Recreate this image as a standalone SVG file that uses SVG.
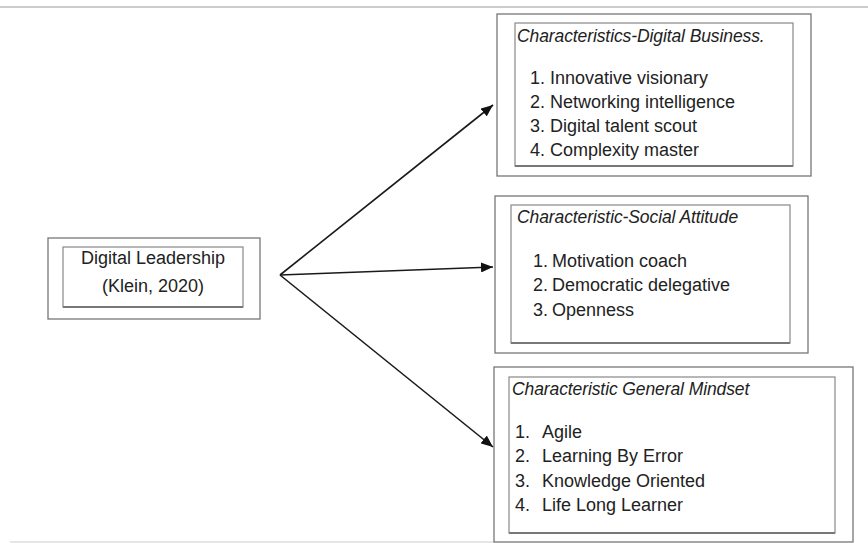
<svg xmlns="http://www.w3.org/2000/svg" width="868" height="543" viewBox="0 0 868 543">
<defs>
<marker id="ah" viewBox="0 0 12 10" refX="12" refY="5" markerWidth="12" markerHeight="10" markerUnits="userSpaceOnUse" orient="auto">
<path d="M0,0 L12,5 L0,10 z" fill="#111"/>
</marker>
<style>
.outer{fill:#fff;stroke:#777;stroke-width:1.3}
.inner{fill:#fff;stroke:#888;stroke-width:1.2}
.shadow{stroke:#777;stroke-width:2.2}
text{font-family:"Liberation Sans",Arial,sans-serif;fill:#222;font-size:18px}
.ttl{font-style:italic;font-size:17.5px;letter-spacing:-0.1px}
.conn{stroke:#1a1a1a;stroke-width:1.6;fill:none}
.rule{stroke:#999;stroke-width:1.2}
</style>
</defs>
<rect width="868" height="543" fill="#fff"/>
<line class="rule" x1="0" y1="7" x2="868" y2="7"/>
<line x1="10" y1="542" x2="494" y2="542" stroke="#ccc" stroke-width="1"/>

<g id="digital-leadership">
<rect class="outer" x="48" y="238" width="212" height="81"/>
<rect class="inner" x="63" y="247" width="180" height="60"/>
<line class="shadow" x1="63" y1="307" x2="243" y2="307"/>
<text x="153" y="264" text-anchor="middle">Digital Leadership</text>
<text x="153" y="292" text-anchor="middle">(Klein, 2020)</text>
</g>

<g id="digital-business">
<rect class="outer" x="497" y="14" width="314" height="162"/>
<rect class="inner" x="515" y="23" width="278" height="143"/>
<line class="shadow" x1="515" y1="166" x2="793" y2="166"/>
<text class="ttl" x="517" y="42">Characteristics-Digital Business.</text>
<text x="530" y="84">1.</text><text x="550" y="84">Innovative visionary</text>
<text x="530" y="108">2.</text><text x="550" y="108">Networking intelligence</text>
<text x="530" y="132">3.</text><text x="550" y="132">Digital talent scout</text>
<text x="530" y="156">4.</text><text x="550" y="156">Complexity master</text>
</g>

<g id="social-attitude">
<rect class="outer" x="495" y="196" width="313" height="157"/>
<rect class="inner" x="511" y="205" width="279" height="138"/>
<line class="shadow" x1="511" y1="343" x2="790" y2="343"/>
<text class="ttl" x="517" y="223">Characteristic-Social Attitude</text>
<text x="533" y="267">1.</text><text x="552" y="267">Motivation coach</text>
<text x="533" y="291">2.</text><text x="552" y="291">Democratic delegative</text>
<text x="533" y="316">3.</text><text x="552" y="316">Openness</text>
</g>

<g id="general-mindset">
<rect class="outer" x="494" y="367" width="359" height="175"/>
<rect class="inner" x="509" y="377" width="326" height="156"/>
<line class="shadow" x1="509" y1="533" x2="835" y2="533"/>
<text class="ttl" x="512" y="395">Characteristic General Mindset</text>
<text x="515" y="438">1.</text><text x="542" y="438">Agile</text>
<text x="515" y="462">2.</text><text x="542" y="462">Learning By Error</text>
<text x="515" y="487">3.</text><text x="542" y="487">Knowledge Oriented</text>
<text x="515" y="511">4.</text><text x="542" y="511">Life Long Learner</text>
</g>

<g id="connectors">
<line class="conn" x1="280" y1="275" x2="493" y2="105" marker-end="url(#ah)"/>
<line class="conn" x1="280" y1="275" x2="493" y2="267" marker-end="url(#ah)"/>
<line class="conn" x1="280" y1="275" x2="493" y2="447" marker-end="url(#ah)"/>
</g>
</svg>
